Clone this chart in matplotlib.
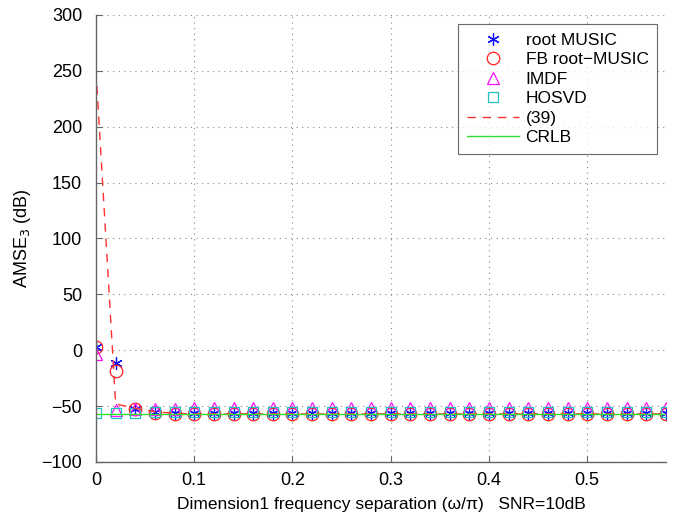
import numpy as np
import matplotlib
matplotlib.use("Agg")
import matplotlib.pyplot as plt

plt.rcParams['font.family'] = ['Liberation Sans', 'DejaVu Sans']

# frequency separation grid (omega/pi)
sep = [0.00, 0.02, 0.04, 0.06, 0.08, 0.10, 0.12, 0.14, 0.16, 0.18,
       0.20, 0.22, 0.24, 0.26, 0.28, 0.30, 0.32, 0.34, 0.36, 0.38,
       0.40, 0.42, 0.44, 0.46, 0.48, 0.50, 0.52, 0.54, 0.56, 0.58]

root_music = [3.0, -11.5, -52.5, -55.0, -56.5, -56.5, -56.5, -56.5, -56.5, -56.5,
              -56.5, -56.5, -56.5, -56.5, -56.5, -56.5, -56.5, -56.5, -56.5, -56.5,
              -56.5, -56.5, -56.5, -56.5, -56.5, -56.5, -56.5, -56.5, -56.5, -56.5]
fb_root_music = [3.0, -18.5, -52.5, -56.0, -57.5, -57.5, -57.5, -57.5, -57.5, -57.5,
                 -57.5, -57.5, -57.5, -57.5, -57.5, -57.5, -57.5, -57.5, -57.5, -57.5,
                 -57.5, -57.5, -57.5, -57.5, -57.5, -57.5, -57.5, -57.5, -57.5, -57.5]
imdf = [-3.0, -53.5, -53.0, -52.5, -52.5, -52.0, -52.0, -52.0, -52.0, -52.0,
        -52.0, -52.0, -52.0, -52.0, -52.0, -52.0, -52.0, -52.0, -52.0, -52.0,
        -52.0, -52.0, -52.0, -52.0, -52.0, -52.0, -52.0, -52.0, -52.0, -52.0]
hosvd = [-56.0, -56.0, -56.0, -55.5, -55.5, -55.5, -55.5, -55.5, -55.5, -55.5,
         -55.5, -55.5, -55.5, -55.5, -55.5, -55.5, -55.5, -55.5, -55.5, -55.5,
         -55.5, -55.5, -55.5, -55.5, -55.5, -55.5, -55.5, -55.5, -55.5, -55.5]
eq39 = [250.0, -48.0, -52.0, -55.0, -56.5, -57.0, -57.0, -57.0, -57.0, -57.0,
        -57.0, -57.0, -57.0, -57.0, -57.0, -57.0, -57.0, -57.0, -57.0, -57.0,
        -57.0, -57.0, -57.0, -57.0, -57.0, -57.0, -57.0, -57.0, -57.0, -57.0]
crlb = [-57.0] * len(sep)

xticks = [0, 0.1, 0.2, 0.3, 0.4, 0.5]
yticks = [-100, -50, 0, 50, 100, 150, 200, 250, 300]

fig = plt.figure(figsize=(6.78, 5.16), dpi=100)
ax = fig.add_axes([0.1416, 0.1047, 0.8404, 0.8663])

asterisk = (6, 2, 0)
ax.plot(sep, root_music, linestyle='none', marker=asterisk, markersize=9,
        markeredgecolor='#1010ff', markeredgewidth=0.9, color='#1010ff', label='root MUSIC')
ax.plot(sep, fb_root_music, linestyle='none', marker='o', markersize=9,
        markerfacecolor='none', markeredgecolor='#ff2020', markeredgewidth=0.9,
        label='FB root\u2212MUSIC')
ax.plot(sep, imdf, linestyle='none', marker='^', markersize=9,
        markerfacecolor='none', markeredgecolor='#ff10ff', markeredgewidth=0.9,
        label='IMDF')
ax.plot(sep, hosvd, linestyle='none', marker='s', markersize=7.5,
        markerfacecolor='none', markeredgecolor='#20c0c0', markeredgewidth=0.9,
        label='HOSVD')
ax.plot(sep, eq39, linestyle=(0, (6, 5)), color='#ff3030', linewidth=1.0, label='(39)')
ax.plot(sep, crlb, linestyle='-', color='#30e030', linewidth=1.0, label='CRLB')

ax.set_xlim(0, 0.58)
ax.set_ylim(-100, 300)
ax.set_xticks(xticks)
ax.set_xticklabels([f'{t:g}' for t in xticks])
ax.set_yticks(yticks)
ax.set_yticklabels([str(t).replace('-', '\u2212') for t in yticks])

ax.grid(True, linestyle=(0, (1, 4)), color='#888888', linewidth=0.8)
for side in ['top', 'right']:
    ax.spines[side].set_visible(False)
for side in ['left', 'bottom']:
    ax.spines[side].set_color('#666666')
    ax.spines[side].set_linewidth(1.0)
ax.tick_params(direction='in', length=4, colors='#666666', labelcolor='black',
               labelsize=13, pad=7)
ax.tick_params(axis='y', pad=10)

ax.set_xlabel('Dimension1 frequency separation (\u03c9/\u03c0)   SNR=10dB', fontsize=12.5,
              labelpad=6)
ax.set_ylabel('AMSE$_3$ (dB)', fontsize=13, labelpad=6)

leg = ax.legend(loc='upper right', bbox_to_anchor=(0.985, 0.98), fontsize=12.5,
                frameon=True, fancybox=False, edgecolor='#444444',
                handlelength=3.0, borderpad=0.5, labelspacing=0.25,
                handletextpad=0.4, borderaxespad=0.0)
leg.get_frame().set_linewidth(0.8)

fig.savefig('out.png', dpi=100)
